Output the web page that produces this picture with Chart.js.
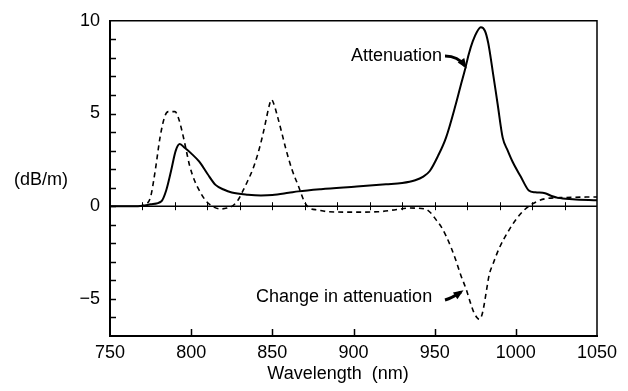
<!DOCTYPE html>
<html>
<head>
<meta charset="utf-8">
<script src="https://cdn.jsdelivr.net/npm/chart.js@4.4.1/dist/chart.umd.min.js"></script>
<style>
  html, body { margin: 0; padding: 0; background: #fff; }
  #wrap { width: 628px; height: 391px; position: relative; }
</style>
</head>
<body>
<div id="wrap"><canvas id="c" width="628" height="391"></canvas></div>
<script>
// ---- Data ----
const attenWavelength = [750, 765, 770, 775, 781.7, 784.6, 787.6, 790.5, 793, 796, 800, 805, 810, 815, 820, 825, 835, 843, 850, 860, 866, 880, 902, 920, 930, 938, 943, 947, 952, 957, 963, 966, 968.5, 971, 973.5, 976, 978.5, 981, 983, 985.8, 988.8, 991.9, 995, 998, 1003, 1008, 1012, 1018, 1022, 1026, 1035, 1050];
const attenuation     = [0, 0, 0.03, 0.1, 0.27, 0.85, 1.9, 3.0, 3.35, 3.15, 2.85, 2.4, 1.75, 1.15, 0.9, 0.74, 0.62, 0.58, 0.6, 0.72, 0.8, 0.92, 1.06, 1.18, 1.25, 1.4, 1.6, 1.9, 2.7, 3.7, 5.5, 6.5, 7.3, 8.2, 8.9, 9.4, 9.65, 9.45, 8.8, 7.25, 5.5, 3.7, 3.0, 2.4, 1.6, 0.85, 0.75, 0.7, 0.55, 0.45, 0.38, 0.32];

const changeWavelength = [768, 772, 775, 778, 781, 784, 786, 790, 792, 794.5, 797, 799, 802, 805, 809, 814, 818, 822, 826, 829, 832, 835, 838, 841, 844, 846, 848, 849.5, 851, 853, 856, 858, 862, 866, 870, 873, 878, 885, 900, 915, 925, 935, 944, 948, 951, 954, 957, 960, 963, 966, 969.5, 972, 974, 976, 977.5, 979, 980.5, 982, 983.6, 986, 989.6, 995.7, 1002, 1008, 1013, 1018, 1030, 1050];
const changeInAttenuation = [0, 0.1, 0.5, 2.0, 3.8, 4.9, 5.1, 5.1, 4.8, 4.0, 3.0, 2.2, 1.4, 0.85, 0.3, -0.05, -0.15, -0.1, 0.05, 0.35, 0.85, 1.4, 2.0, 2.8, 3.8, 4.6, 5.4, 5.75, 5.5, 4.9, 3.9, 3.2, 2.0, 1.1, 0.2, -0.1, -0.2, -0.3, -0.32, -0.3, -0.2, -0.1, -0.15, -0.4, -0.75, -1.1, -1.6, -2.2, -2.9, -3.7, -4.5, -5.2, -5.7, -6.0, -6.1, -5.9, -5.3, -4.5, -3.7, -3.1, -2.3, -1.3, -0.5, 0, 0.25, 0.4, 0.47, 0.5];

const xTickValues = [750, 800, 850, 900, 950, 1000, 1050];
const yLabelValues = [10, 5, 0, -5];
const zeroLineMarks = [770, 790, 810, 830, 850, 870, 890, 910, 930, 950, 970, 990, 1010, 1030];

const xTitle = 'Wavelength  (nm)';
const yTitle = '(dB/m)';
const labelAtten = 'Attenuation';
const labelChange = 'Change in attenuation';

const FONT = '"Liberation Sans", Arial, Helvetica, sans-serif';

function pts(xs, ys) { return xs.map((x, i) => ({ x: x, y: ys[i] })); }

const decor = {
  id: 'decor',
  afterDraw(chart) {
    const ctx = chart.ctx;
    const a = chart.chartArea;
    const xs = chart.scales.x, ys = chart.scales.y;
    ctx.save();
    ctx.strokeStyle = '#000';
    ctx.fillStyle = '#000';
    // top & right frame
    ctx.lineWidth = 1.5;
    ctx.beginPath();
    ctx.moveTo(a.left, a.top); ctx.lineTo(a.right, a.top); ctx.lineTo(a.right, a.bottom);
    ctx.stroke();
    // zero line
    const y0 = ys.getPixelForValue(0);
    ctx.lineWidth = 1.5;
    ctx.beginPath(); ctx.moveTo(a.left, y0); ctx.lineTo(a.right, y0); ctx.stroke();
    ctx.lineWidth = 1;
    zeroLineMarks.forEach(v => {
      const px = Math.round(xs.getPixelForValue(v)) + 0.5;
      ctx.beginPath(); ctx.moveTo(px, y0 - 4); ctx.lineTo(px, y0 + 4); ctx.stroke();
    });
    // inward ticks on the left axis (every 1 dB/m)
    ctx.lineWidth = 1.5;
    for (let v = ys.min + 1; v < ys.max; v++) {
      const py = Math.round(ys.getPixelForValue(v)) + 0.5;
      ctx.beginPath(); ctx.moveTo(a.left, py); ctx.lineTo(a.left + 6, py); ctx.stroke();
    }
    // inward ticks on the bottom axis
    xTickValues.slice(1, -1).forEach(v => {
      const px = Math.round(xs.getPixelForValue(v)) + 0.5;
      ctx.beginPath(); ctx.moveTo(px, a.bottom); ctx.lineTo(px, a.bottom - 7); ctx.stroke();
    });
    // y title (horizontal)
    ctx.font = '18px ' + FONT;
    ctx.textAlign = 'left';
    ctx.textBaseline = 'middle';
    ctx.fillText(yTitle, 14, ys.getPixelForValue(1.4));
    // x title
    ctx.textAlign = 'center';
    ctx.fillText(xTitle, 338, 374);
    // annotations
    ctx.textAlign = 'left';
    ctx.fillText(labelAtten, 351, 56);
    ctx.fillText(labelChange, 256, 297);
    // arrows
    function arrow(x0, y0a, cx, cy, x1, y1) {
      ctx.lineWidth = 3;
      ctx.beginPath(); ctx.moveTo(x0, y0a); ctx.quadraticCurveTo(cx, cy, x1, y1); ctx.stroke();
      const ang = Math.atan2(y1 - cy, x1 - cx);
      const L = 7, W = 4;
      ctx.beginPath();
      ctx.moveTo(x1 + Math.cos(ang) * 3, y1 + Math.sin(ang) * 3);
      ctx.lineTo(x1 - Math.cos(ang) * L + Math.sin(ang) * W, y1 - Math.sin(ang) * L - Math.cos(ang) * W);
      ctx.lineTo(x1 - Math.cos(ang) * L - Math.sin(ang) * W, y1 - Math.sin(ang) * L + Math.cos(ang) * W);
      ctx.closePath(); ctx.fill();
    }
    arrow(445, 56, 458, 56, 465, 66);
    arrow(445, 300, 452, 298, 461, 292);
    ctx.restore();
  }
};

new Chart(document.getElementById('c'), {
  type: 'line',
  data: {
    datasets: [
      {
        label: labelAtten,
        data: pts(attenWavelength, attenuation),
        borderColor: '#000', borderWidth: 2, pointRadius: 0,
        cubicInterpolationMode: 'monotone', fill: false
      },
      {
        label: labelChange,
        data: pts(changeWavelength, changeInAttenuation),
        borderColor: '#000', borderWidth: 1.6, borderDash: [5, 4], pointRadius: 0,
        cubicInterpolationMode: 'monotone', fill: false
      }
    ]
  },
  options: {
    responsive: false,
    animation: false,
    events: [],
    layout: { padding: { top: 15, right: 31, left: 0, bottom: 0 } },
    plugins: { legend: { display: false }, tooltip: { enabled: false }, title: { display: false } },
    scales: {
      x: {
        type: 'linear', min: 750, max: 1050,
        afterFit(s) { s.height = 55; },
        afterBuildTicks(s) { s.ticks = xTickValues.map(v => ({ value: v })); },
        ticks: { color: '#000', font: { family: FONT, size: 18 }, padding: 6, maxRotation: 0, autoSkip: false,
                 callback: v => String(v) },
        grid: { drawOnChartArea: false, drawTicks: false },
        border: { color: '#000', width: 2 }
      },
      y: {
        min: -7, max: 10,
        afterFit(s) { s.width = 110; },
        afterBuildTicks(s) { s.ticks = yLabelValues.map(v => ({ value: v })); },
        ticks: {
          color: '#000', font: { family: FONT, size: 18 }, padding: 10,
          callback: v => (v < 0 ? '\u2212' + Math.abs(v) : String(v))
        },
        grid: { drawOnChartArea: false, drawTicks: false },
        border: { color: '#000', width: 2 }
      }
    }
  },
  plugins: [decor]
});
</script>
</body>
</html>
